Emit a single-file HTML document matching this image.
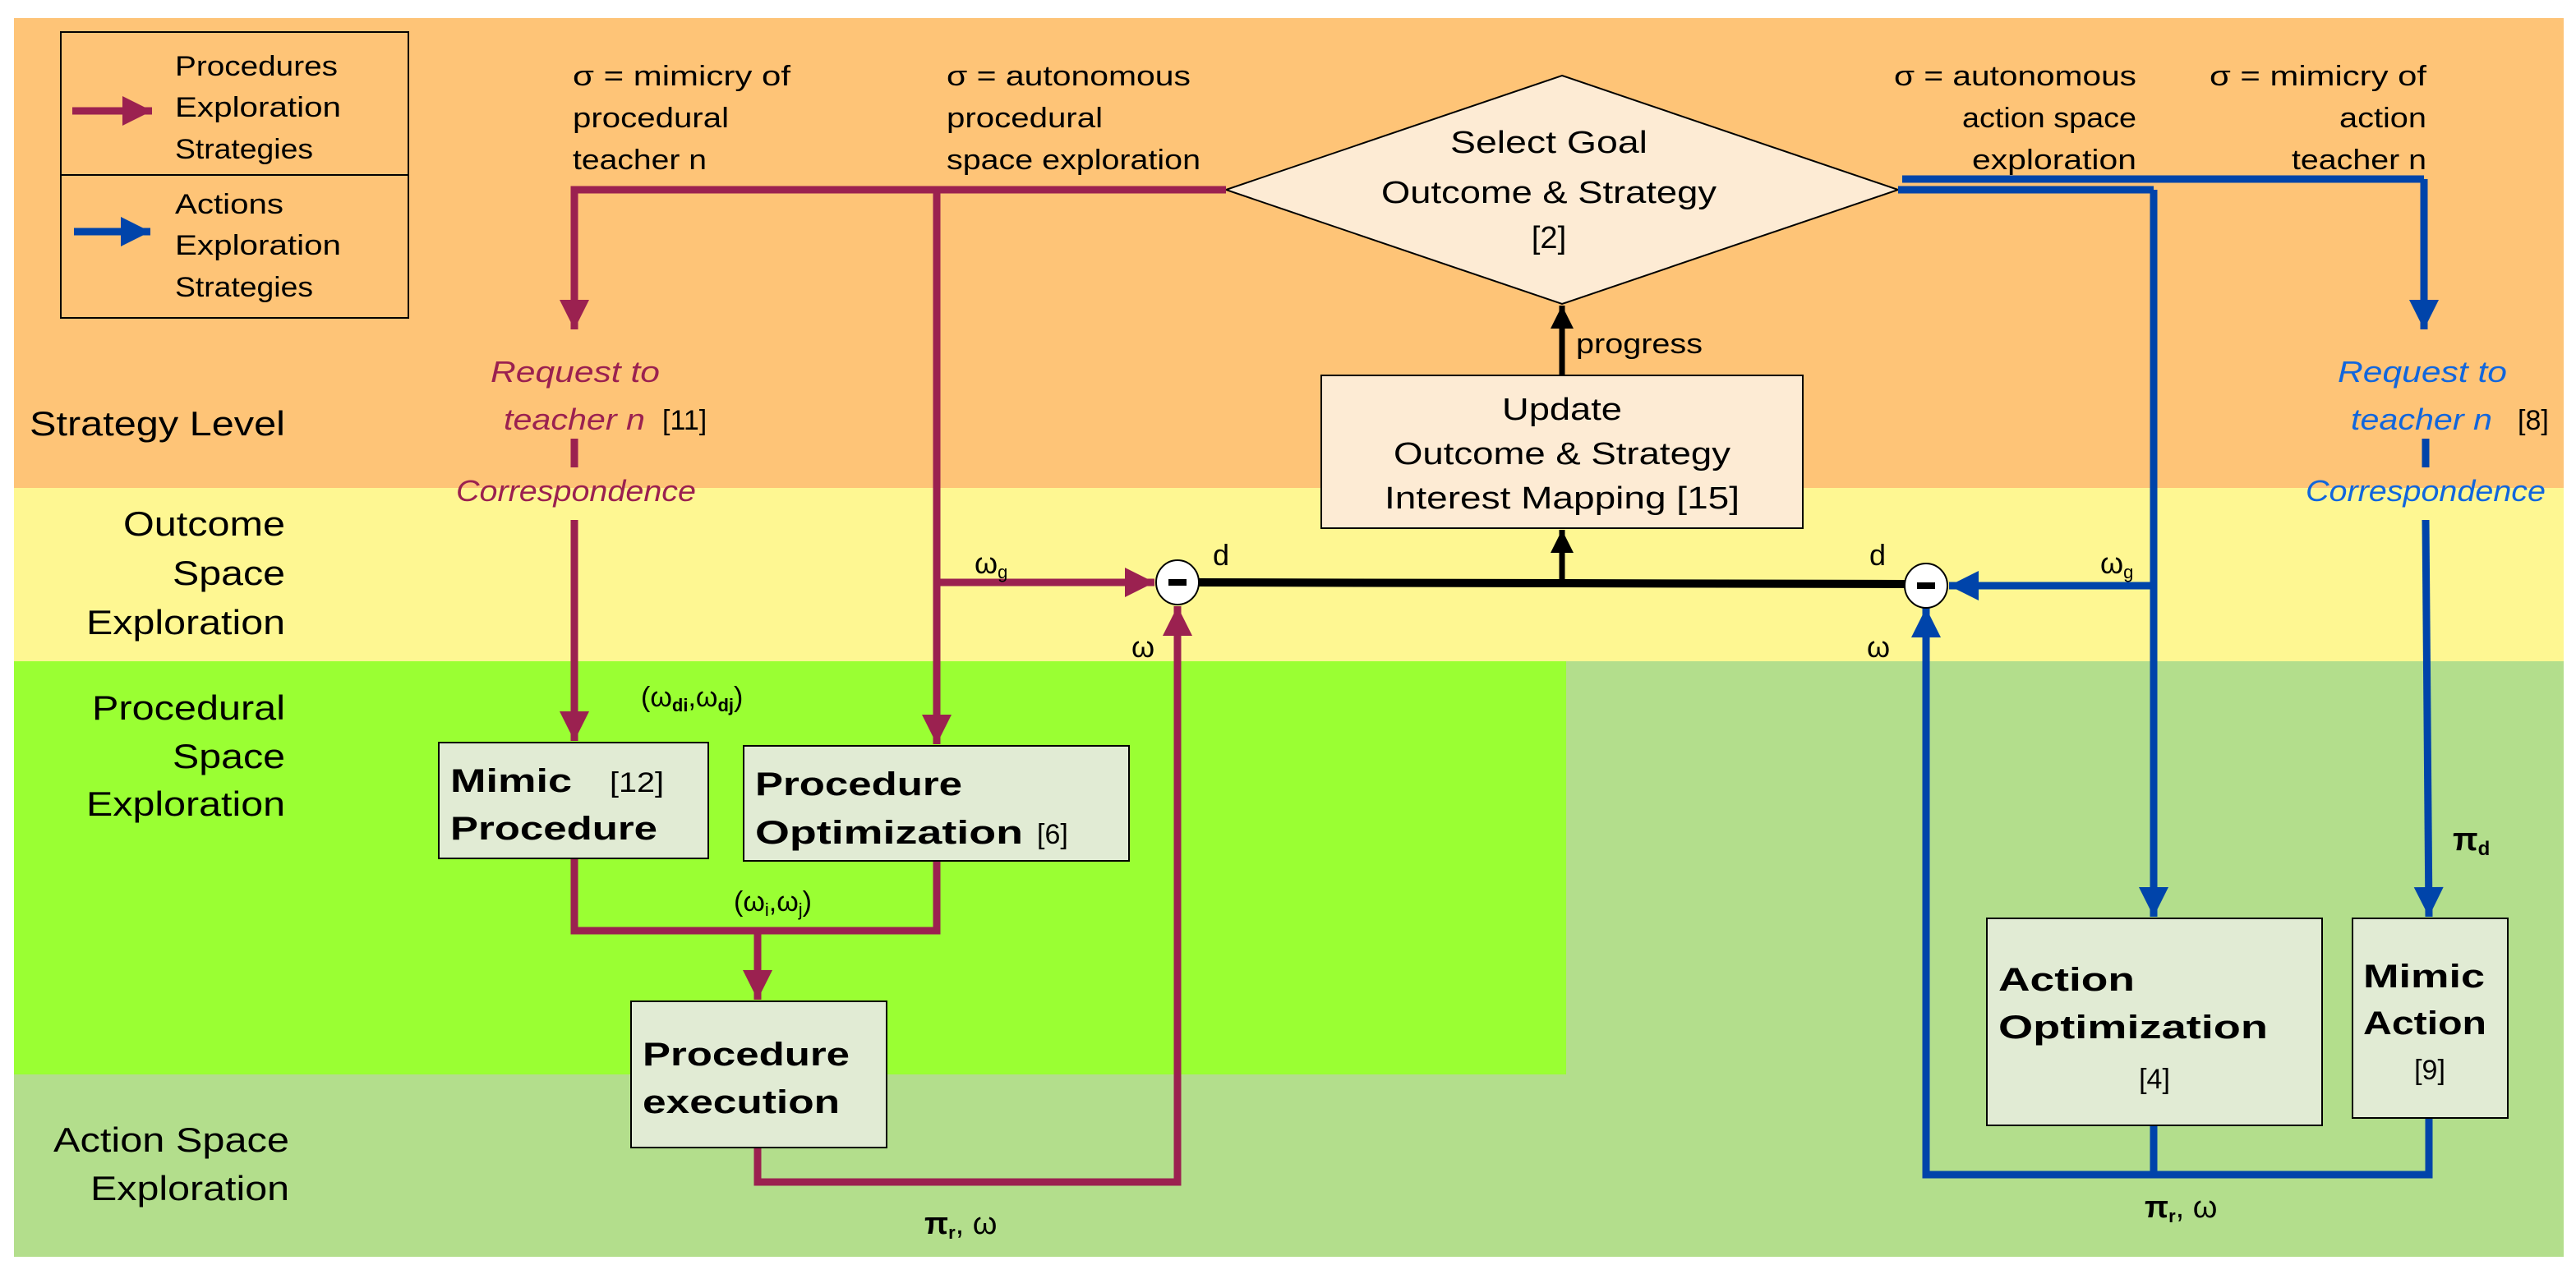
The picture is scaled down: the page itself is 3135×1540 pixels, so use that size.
<!DOCTYPE html>
<html><head><meta charset="utf-8"><style>
html,body{margin:0;padding:0;background:#fff}
svg{display:block}
text{font-family:"Liberation Sans",sans-serif;fill:#000}
.b{font-weight:bold}
.i{font-style:italic}
</style></head><body>
<svg width="3135" height="1540" viewBox="0 0 3135 1540" xmlns="http://www.w3.org/2000/svg">
<defs>
<marker id="am" viewBox="0 0 10 10" refX="10" refY="5" markerWidth="4.5" markerHeight="4" orient="auto" markerUnits="strokeWidth"><path d="M0,0 L10,5 L0,10 z" fill="#9b2150"/></marker>
<marker id="ab" viewBox="0 0 10 10" refX="10" refY="5" markerWidth="4.5" markerHeight="4" orient="auto" markerUnits="strokeWidth"><path d="M0,0 L10,5 L0,10 z" fill="#0044aa"/></marker>
<marker id="ak" viewBox="0 0 10 10" refX="10" refY="5" markerWidth="5" markerHeight="4" orient="auto" markerUnits="strokeWidth"><path d="M0,0 L10,5 L0,10 z" fill="#000"/></marker>
</defs>
<!-- backgrounds -->
<rect x="17" y="22" width="3103" height="1508" fill="#b3de8c"/>
<rect x="17" y="22" width="3103" height="573" fill="#fec477"/>
<rect x="17" y="594" width="3103" height="211" fill="#fef792"/>
<rect x="17" y="805" width="1889" height="503" fill="#9aff33"/>

<!-- legend -->
<rect x="74" y="39" width="423" height="348" fill="none" stroke="#000" stroke-width="2"/>
<line x1="74" y1="213" x2="497" y2="213" stroke="#000" stroke-width="2"/>
<line x1="88" y1="135" x2="185" y2="135" stroke="#9b2150" stroke-width="9" marker-end="url(#am)"/>
<line x1="90" y1="282" x2="183" y2="282" stroke="#0044aa" stroke-width="9" marker-end="url(#ab)"/>
<g font-size="34">
<text x="213" y="92" textLength="198" lengthAdjust="spacingAndGlyphs">Procedures</text>
<text x="213" y="142" textLength="202" lengthAdjust="spacingAndGlyphs">Exploration</text>
<text x="213" y="193" textLength="168" lengthAdjust="spacingAndGlyphs">Strategies</text>
<text x="213" y="260" textLength="132" lengthAdjust="spacingAndGlyphs">Actions</text>
<text x="213" y="310" textLength="202" lengthAdjust="spacingAndGlyphs">Exploration</text>
<text x="213" y="361" textLength="168" lengthAdjust="spacingAndGlyphs">Strategies</text>
</g>

<!-- level labels -->
<g font-size="42" text-anchor="end">
<text x="347" y="530" textLength="311" lengthAdjust="spacingAndGlyphs">Strategy Level</text>
<text x="347" y="652" textLength="197" lengthAdjust="spacingAndGlyphs">Outcome</text>
<text x="347" y="712" textLength="137" lengthAdjust="spacingAndGlyphs">Space</text>
<text x="347" y="772" textLength="242" lengthAdjust="spacingAndGlyphs">Exploration</text>
<text x="347" y="876" textLength="235" lengthAdjust="spacingAndGlyphs">Procedural</text>
<text x="347" y="935" textLength="137" lengthAdjust="spacingAndGlyphs">Space</text>
<text x="347" y="993" textLength="242" lengthAdjust="spacingAndGlyphs">Exploration</text>
<text x="352" y="1402" textLength="287" lengthAdjust="spacingAndGlyphs">Action Space</text>
<text x="352" y="1461" textLength="242" lengthAdjust="spacingAndGlyphs">Exploration</text>
</g>

<!-- top sigma labels -->
<g font-size="34">
<text x="697" y="104" textLength="265" lengthAdjust="spacingAndGlyphs">σ = mimicry of</text>
<text x="697" y="155" textLength="190" lengthAdjust="spacingAndGlyphs">procedural</text>
<text x="697" y="206" textLength="163" lengthAdjust="spacingAndGlyphs">teacher n</text>
<text x="1152" y="104" textLength="297" lengthAdjust="spacingAndGlyphs">σ = autonomous</text>
<text x="1152" y="155" textLength="190" lengthAdjust="spacingAndGlyphs">procedural</text>
<text x="1152" y="206" textLength="309" lengthAdjust="spacingAndGlyphs">space exploration</text>
</g>
<g font-size="34" text-anchor="end">
<text x="2600" y="104" textLength="295" lengthAdjust="spacingAndGlyphs">σ = autonomous</text>
<text x="2600" y="155" textLength="212" lengthAdjust="spacingAndGlyphs">action space</text>
<text x="2600" y="206" textLength="200" lengthAdjust="spacingAndGlyphs">exploration</text>
<text x="2953" y="104" textLength="264" lengthAdjust="spacingAndGlyphs">σ = mimicry of</text>
<text x="2953" y="155" textLength="106" lengthAdjust="spacingAndGlyphs">action</text>
<text x="2953" y="206" textLength="164" lengthAdjust="spacingAndGlyphs">teacher n</text>
</g>

<!-- diamond -->
<polygon points="1901,92 2310,231 1901,370 1492,231" fill="#fdebd4" stroke="#000" stroke-width="2"/>
<g font-size="38" text-anchor="middle">
<text x="1885" y="186" textLength="240" lengthAdjust="spacingAndGlyphs">Select  Goal</text>
<text x="1885" y="247" textLength="408" lengthAdjust="spacingAndGlyphs">Outcome &amp; Strategy</text>
<text x="1885" y="302">[2]</text>
</g>

<!-- update box -->
<rect x="1608" y="457" width="586" height="186" fill="#fdebd4" stroke="#000" stroke-width="2"/>
<g font-size="38" text-anchor="middle">
<text x="1901" y="511" textLength="146" lengthAdjust="spacingAndGlyphs">Update</text>
<text x="1901" y="565" textLength="410" lengthAdjust="spacingAndGlyphs">Outcome &amp; Strategy</text>
<text x="1901" y="619" textLength="432" lengthAdjust="spacingAndGlyphs">Interest Mapping [15]</text>
</g>
<line x1="1901" y1="457" x2="1901" y2="372" stroke="#000" stroke-width="7" marker-end="url(#ak)"/>
<text x="1918" y="430" font-size="34" textLength="154" lengthAdjust="spacingAndGlyphs">progress</text>
<line x1="1901" y1="710" x2="1901" y2="645" stroke="#000" stroke-width="7" marker-end="url(#ak)"/>
<!-- black d line -->
<line x1="1458" y1="709" x2="2318" y2="711" stroke="#000" stroke-width="10"/>

<!-- maroon lines -->
<g stroke="#9b2150" stroke-width="9" fill="none">
<polyline points="1492,231 699,231 699,250"/>
<line x1="699" y1="231" x2="699" y2="401" marker-end="url(#am)"/>
<line x1="1140" y1="231" x2="1140" y2="906" marker-end="url(#am)"/>
<line x1="699" y1="534" x2="699" y2="569"/>
<line x1="699" y1="633" x2="699" y2="902" marker-end="url(#am)"/>
<line x1="1140" y1="709" x2="1405" y2="709" marker-end="url(#am)"/>
<polyline points="699,1045 699,1133 1140,1133 1140,1048"/>
<line x1="922" y1="1133" x2="922" y2="1217" marker-end="url(#am)"/>
<polyline points="922,1397 922,1439 1433,1439 1433,800"/>
<line x1="1433" y1="1439" x2="1433" y2="738" marker-end="url(#am)"/>
</g>
<!-- blue lines -->
<g stroke="#0044aa" stroke-width="9" fill="none">
<polyline points="2315,218 2950,218"/>
<line x1="2950" y1="218" x2="2950" y2="401" marker-end="url(#ab)"/>
<polyline points="2310,231 2621,231"/>
<line x1="2621" y1="231" x2="2621" y2="1116" marker-end="url(#ab)"/>
<line x1="2952" y1="534" x2="2952" y2="569"/>
<line x1="2952" y1="633" x2="2956" y2="1116" marker-end="url(#ab)"/>
<line x1="2621" y1="713" x2="2372" y2="713" marker-end="url(#ab)"/>
<polyline points="2621,1370 2621,1430"/>
<polyline points="2956,1361 2956,1430 2344,1430 2344,800"/>
<line x1="2344" y1="1430" x2="2344" y2="740" marker-end="url(#ab)"/>
</g>

<!-- circles -->
<ellipse cx="1433" cy="709" rx="26" ry="27" fill="#fff" stroke="#000" stroke-width="2"/>
<rect x="1422" y="705" width="22" height="8" fill="#000"/>
<ellipse cx="2344" cy="713" rx="26" ry="27" fill="#fff" stroke="#000" stroke-width="2"/>
<rect x="2333" y="709" width="22" height="8" fill="#000"/>
<g font-size="36">
<text x="1476" y="688">d</text>
<text x="2275" y="688">d</text>
<text x="1377" y="800">ω</text>
<text x="2272" y="800">ω</text>
<text x="1186" y="698">ω<tspan font-size="22" dy="6">g</tspan></text>
<text x="2556" y="698">ω<tspan font-size="22" dy="6">g</tspan></text>
</g>

<!-- request labels -->
<g font-size="36" class="i" fill="#9b2150">
<text x="597" y="465" class="i" fill="#9b2150" textLength="206" lengthAdjust="spacingAndGlyphs" style="fill:#9b2150">Request  to</text>
<text x="613" y="523" class="i" style="fill:#9b2150" textLength="172" lengthAdjust="spacingAndGlyphs">teacher n</text>
<text x="555" y="610" class="i" style="fill:#9b2150" textLength="292" lengthAdjust="spacingAndGlyphs">Correspondence</text>
<text x="2845" y="465" class="i" style="fill:#1166dd" textLength="206" lengthAdjust="spacingAndGlyphs">Request  to</text>
<text x="2861" y="523" class="i" style="fill:#1166dd" textLength="172" lengthAdjust="spacingAndGlyphs">teacher n</text>
<text x="2806" y="610" class="i" style="fill:#1166dd" textLength="292" lengthAdjust="spacingAndGlyphs">Correspondence</text>
</g>
<text x="806" y="523" font-size="34">[11]</text>
<text x="3064" y="523" font-size="34">[8]</text>

<!-- boxes -->
<rect x="534" y="904" width="328" height="141" fill="#e1ebd4" stroke="#000" stroke-width="2"/>
<text x="548" y="964" font-size="40" class="b" textLength="148" lengthAdjust="spacingAndGlyphs">Mimic</text>
<text x="742" y="964" font-size="34" textLength="66" lengthAdjust="spacingAndGlyphs">[12]</text>
<text x="548" y="1022" font-size="40" class="b" textLength="252" lengthAdjust="spacingAndGlyphs">Procedure</text>

<rect x="905" y="908" width="469" height="140" fill="#e1ebd4" stroke="#000" stroke-width="2"/>
<text x="919" y="968" font-size="40" class="b" textLength="252" lengthAdjust="spacingAndGlyphs">Procedure</text>
<text x="919" y="1027" font-size="40" class="b" textLength="326" lengthAdjust="spacingAndGlyphs">Optimization</text>
<text x="1262" y="1027" font-size="34">[6]</text>

<text x="780" y="860" font-size="34">(ω<tspan font-size="22" class="b" dy="6">di</tspan><tspan dy="-6">,ω</tspan><tspan font-size="22" class="b" dy="6">dj</tspan><tspan dy="-6">)</tspan></text>
<text x="893" y="1109" font-size="34">(ω<tspan font-size="22" dy="6">i</tspan><tspan dy="-6">,ω</tspan><tspan font-size="22" dy="6">j</tspan><tspan dy="-6">)</tspan></text>

<rect x="768" y="1219" width="311" height="178" fill="#e1ebd4" stroke="#000" stroke-width="2"/>
<text x="782" y="1297" font-size="40" class="b" textLength="252" lengthAdjust="spacingAndGlyphs">Procedure</text>
<text x="782" y="1355" font-size="40" class="b" textLength="240" lengthAdjust="spacingAndGlyphs">execution</text>

<text x="1125" y="1502" font-size="38"><tspan class="b">π</tspan><tspan font-size="22" class="b" dy="6">r</tspan><tspan dy="-6">, ω</tspan></text>
<text x="2610" y="1482" font-size="38"><tspan class="b">π</tspan><tspan font-size="22" class="b" dy="6">r</tspan><tspan dy="-6">, ω</tspan></text>
<text x="2985" y="1035" font-size="40" class="b">π<tspan font-size="24" dy="6">d</tspan></text>

<rect x="2418" y="1118" width="408" height="252" fill="#e1ebd4" stroke="#000" stroke-width="2"/>
<text x="2432" y="1206" font-size="40" class="b" textLength="166" lengthAdjust="spacingAndGlyphs">Action</text>
<text x="2432" y="1264" font-size="40" class="b" textLength="328" lengthAdjust="spacingAndGlyphs">Optimization</text>
<text x="2622" y="1325" font-size="34" text-anchor="middle">[4]</text>

<rect x="2863" y="1118" width="189" height="243" fill="#e1ebd4" stroke="#000" stroke-width="2"/>
<text x="2876" y="1202" font-size="40" class="b" textLength="148" lengthAdjust="spacingAndGlyphs">Mimic</text>
<text x="2876" y="1259" font-size="40" class="b" textLength="150" lengthAdjust="spacingAndGlyphs">Action</text>
<text x="2957" y="1314" font-size="34" text-anchor="middle">[9]</text>
</svg>
</body></html>
